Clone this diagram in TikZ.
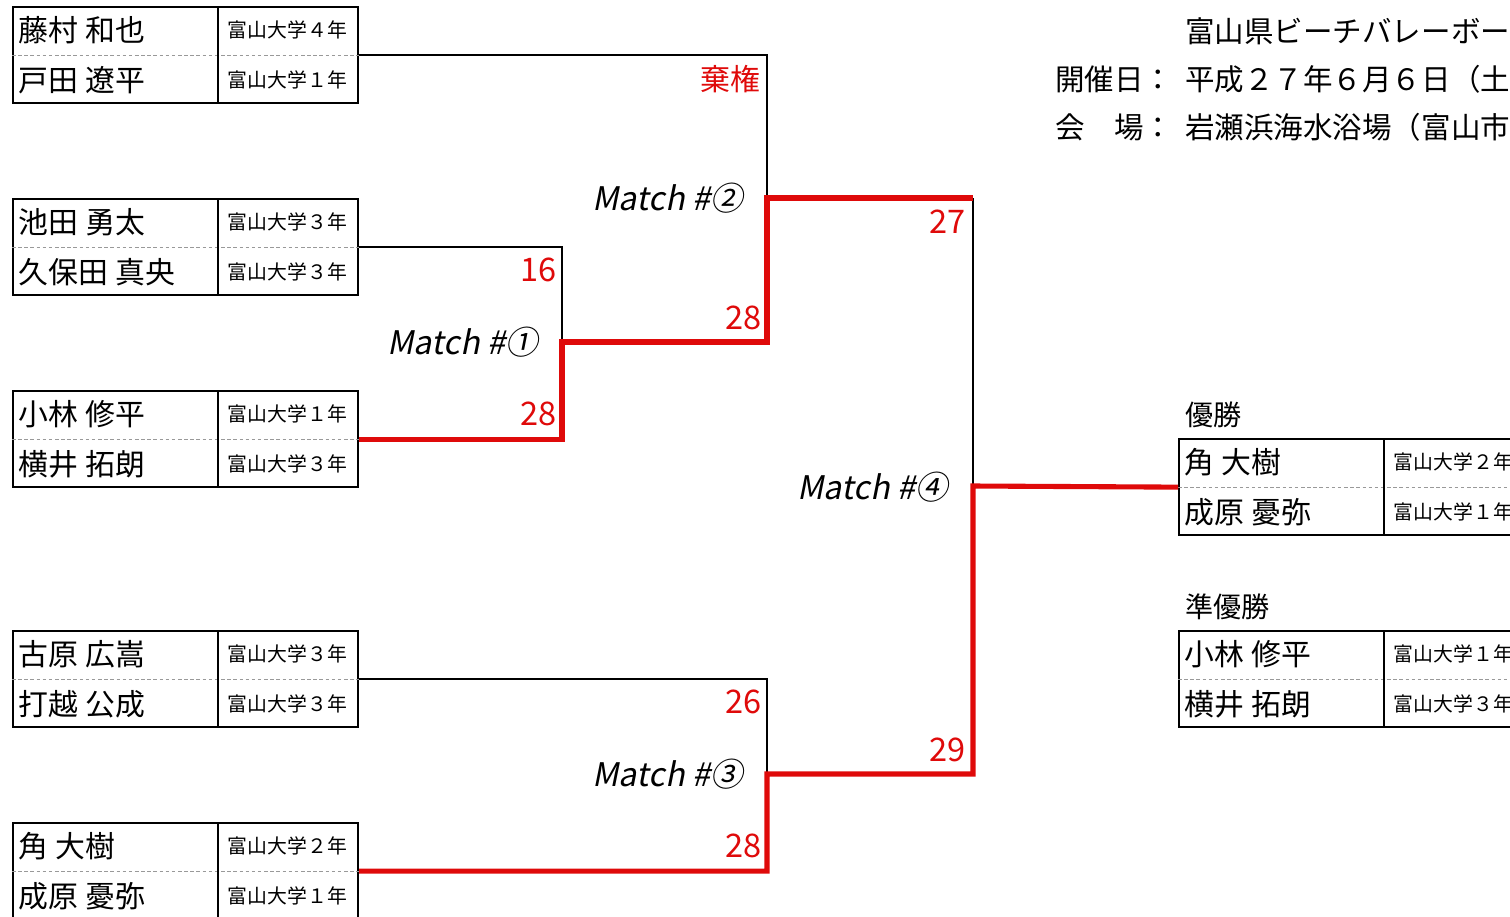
\documentclass[tikz,border=0pt]{standalone}
\usepackage{fontspec}
\usepackage{xcolor}
\usepackage{tikz}
\setmainfont{Noto Sans CJK JP}
\newfontfamily\matchfont{Noto Sans CJK JP}[FakeSlant=0.2]
\definecolor{scorered}{HTML}{DF0A0A}
\tikzset{
  team box/.style={draw, line width=1.3pt, anchor=north west,
    minimum width=6.9cm, minimum height=1.92cm, inner sep=0pt},
  row split/.style={draw=gray!80, line width=0.5pt, dash pattern=on 2pt off 1.5pt},
  col split/.style={line width=1.3pt},
  player/.style={anchor=west, inner sep=0pt, font=\fontsize{17}{20}\selectfont},
  school/.style={inner sep=0pt, font=\fontsize{11.3}{13}\selectfont},
  lose line/.style={draw=black, line width=1.1pt},
  win line/.style={draw=scorered, line width=2.9pt},
  score/.style={anchor=east, inner sep=0pt, text=scorered, font=\fontsize{18.5}{21}\selectfont},
  match label/.style={anchor=east, inner sep=0pt, font=\matchfont\fontsize{18.5}{21}\selectfont},
  title text/.style={anchor=west, inner sep=0pt, font=\fontsize{16.8}{20}\selectfont},
  place label/.style={anchor=west, inner sep=0pt, font=\fontsize{16}{19}\selectfont}
}
% one pair: box, players, schools
\newcommand{\teambox}[6]{%
  \node[team box] (#1) at (#2) {};
  \draw[row split] (#1.west) -- (#1.east);
  \draw[col split] ([xshift=4.12cm]#1.north west) -- ([xshift=4.12cm]#1.south west);
  \node[player] (#1a) at ([xshift=0.13cm,yshift=-0.48cm]#1.north west) {#3};
  \node[player] (#1b) at ([xshift=0.13cm,yshift=0.48cm]#1.south west) {#4};
  \node[school] (#1c) at ([xshift=5.51cm,yshift=-0.48cm]#1.north west) {#5};
  \node[school] (#1d) at ([xshift=5.51cm,yshift=0.48cm]#1.south west) {#6};
}
\begin{document}
\begin{tikzpicture}[x=0.02cm, y=-0.02cm]
    \clip (0,0) rectangle (1510,916);

    \teambox{T1}{12,6}{藤村 和也}{戸田 遼平}{富山大学４年}{富山大学１年}
    \teambox{T2}{12,198}{池田 勇太}{久保田 真央}{富山大学３年}{富山大学３年}
    \teambox{T3}{12,390}{小林 修平}{横井 拓朗}{富山大学１年}{富山大学３年}
    \teambox{T4}{12,630}{古原 広嵩}{打越 公成}{富山大学３年}{富山大学３年}
    \teambox{T5}{12,822}{角 大樹}{成原 憂弥}{富山大学２年}{富山大学１年}

    \teambox{W}{1178,438}{角 大樹}{成原 憂弥}{富山大学２年}{富山大学１年}
    \teambox{R}{1178,630}{小林 修平}{横井 拓朗}{富山大学１年}{富山大学３年}

    \coordinate (M1) at (562,342);
    \coordinate (M2) at (767,198);
    \coordinate (M3) at (767,774);
    \coordinate (M4) at (973,486);
    \coordinate (F2) at (973,198);

    \draw[lose line] (T1.east) -| (M2);
    \draw[lose line] (T2.east) -| (M1);
    \draw[lose line] (T4.east) -| (M3);
    \draw[lose line] (F2) -- (M4);

    \draw[win line] (T3.east) -| (M1) -| (M2) -- (F2);
    \draw[win line] (T5.east) -| (M3) -| (M4) -- (W.west);

    \node[score, font=\fontsize{17}{20}\selectfont] (forfeit) at (761,79) {棄権};
    \node[score] (s16) at (557,270) {16};
    \node[score] (s28a) at (557,414) {28};
    \node[score] (s28b) at (762,318) {28};
    \node[score] (s27) at (966,222) {27};
    \node[score] (s26) at (762,702) {26};
    \node[score] (s28c) at (762,846) {28};
    \node[score] (s29) at (966,750) {29};

    \node[match label] (m1) at (538,342) {Match \#①};
    \node[match label] (m2) at (743,198) {Match \#②};
    \node[match label] (m3) at (743,774) {Match \#③};
    \node[match label] (m4) at (948,487) {Match \#④};

    \node[title text] (head) at (1185,31) {富山県ビーチバレーボー};
    \node[title text] (dateL) at (1055,79) {開催日：};
    \node[title text] (date) at (1185,79) {平成２７年６月６日（土};
    \node[title text] (placeL) at (1055,127) {会　場：};
    \node[title text] (place) at (1185,127) {岩瀬浜海水浴場（富山市};

    \node[place label] (first) at (1185,415) {優勝};
    \node[place label] (second) at (1185,607) {準優勝};
\end{tikzpicture}
\end{document}
